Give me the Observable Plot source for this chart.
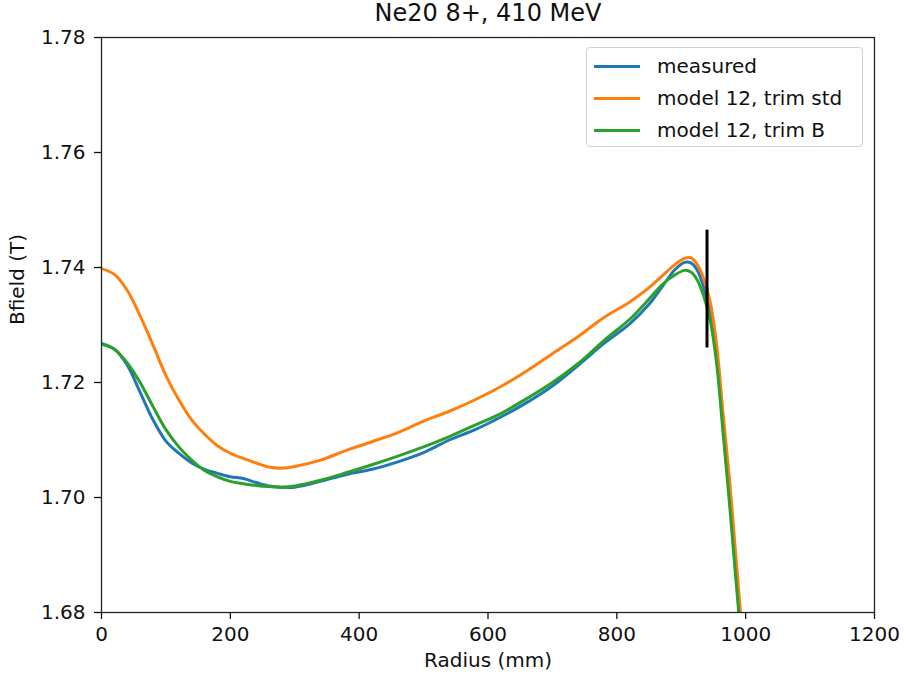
<!DOCTYPE html>
<html>
<head>
<meta charset="utf-8">
<script src="https://cdn.jsdelivr.net/npm/d3@7"></script>
<script src="https://cdn.jsdelivr.net/npm/@observablehq/plot@0.6"></script>
<style>
  html, body { margin: 0; padding: 0; background: white; }
  #wrap { position: relative; width: 907px; height: 677px; font-family: "DejaVu Sans", sans-serif; }
  #legend { position: absolute; left: 586px; top: 47px; width: 277px; height: 100px;
            border: 1px solid #d0d0d0; border-radius: 4px; background: rgba(255,255,255,0.8); box-sizing: border-box; }
  .item { position: absolute; left: 0; height: 30px; width: 100%; }
  .swatch { position: absolute; left: 7px; width: 46px; height: 3px; top: 13.5px; }
  .lab { position: absolute; left: 70px; top: 0; line-height: 30px; font-size: 20px; color: #111; white-space: nowrap; }
</style>
</head>
<body>
<div id="wrap"><div id="legend"></div></div>
<script>
const title = "Ne20 8+, 410 MeV";
const xLabel = "Radius (mm)";
const yLabel = "Bfield (T)";
const seriesNames = ["measured", "model 12, trim std", "model 12, trim B"];
const seriesColors = ["#1f77b4", "#ff7f0e", "#2ca02c"];
const xTicks = [0, 200, 400, 600, 800, 1000, 1200];
const yTicks = [1.68, 1.70, 1.72, 1.74, 1.76, 1.78];

const radius = [0,20,40,60,80,100,120,140,160,180,200,220,240,260,280,300,
  340,380,420,460,500,540,580,620,660,700,740,780,820,
  850,870,890,905,915,925,935,945,955,965,975,985,992];

const measured = [1.7268,1.7258,1.7230,1.7183,1.7135,1.7098,1.7077,1.7060,1.7049,1.7042,1.7036,1.7033,1.7026,1.7020,1.7018,1.7018,
  1.7028,1.7040,1.7049,1.7062,1.7078,1.7100,1.7118,1.7140,1.7165,1.7194,1.7230,1.7268,1.7302,
  1.7336,1.7366,1.7396,1.7409,1.7408,1.7395,1.7365,1.7320,1.7245,1.7125,1.7000,1.6870,1.6770];

const trimStd = [1.7398,1.7388,1.7360,1.7316,1.7265,1.7212,1.7170,1.7135,1.7110,1.7090,1.7077,1.7068,1.7060,1.7053,1.7051,1.7054,
  1.7065,1.7082,1.7097,1.7113,1.7133,1.7150,1.7170,1.7193,1.7220,1.7250,1.7280,1.7313,1.7340,
  1.7365,1.7385,1.7405,1.7416,1.7417,1.7405,1.7380,1.7340,1.7265,1.7145,1.7030,1.6895,1.6800];

const trimB = [1.7267,1.7258,1.7234,1.7200,1.7158,1.7118,1.7088,1.7065,1.7047,1.7036,1.7028,1.7024,1.7021,1.7019,1.7018,1.7020,
  1.7030,1.7043,1.7057,1.7072,1.7088,1.7106,1.7126,1.7146,1.7172,1.7200,1.7233,1.7273,1.7310,
  1.7345,1.7370,1.7387,1.7395,1.7392,1.7378,1.7350,1.7308,1.7232,1.7112,1.6988,1.6855,1.6765];

const markerR = [940];
const markerLow = [1.7260];
const markerHigh = [1.7465];

const allSeries = [measured, trimStd, trimB];
const series = allSeries.map((vals, i) => radius.map((r, j) => ({r, b: vals[j], name: seriesNames[i]})));
const marker = markerR.map((r, i) => ({r, lo: markerLow[i], hi: markerHigh[i]}));

const chart = Plot.plot({
  width: 907,
  height: 677,
  marginLeft: 101,
  marginRight: 33,
  marginTop: 37,
  marginBottom: 65,
  x: {domain: [0, 1200]},
  y: {domain: [1.68, 1.78]},
  style: {fontFamily: "DejaVu Sans, sans-serif", fontSize: "20px", color: "#111", background: "white", overflow: "visible"},
  marks: [
    ...series.map((d, i) => Plot.line(d, {x: "r", y: "b", stroke: seriesColors[i], strokeWidth: 3, curve: "catmull-rom", clip: true})),
    Plot.ruleX(marker, {x: "r", y1: "lo", y2: "hi", stroke: "black", strokeWidth: 3}),
    Plot.frame({stroke: "#222", strokeWidth: 1.3}),
    Plot.axisX({ticks: xTicks, tickFormat: d3.format("d"), tickSize: 7, tickPadding: 7, strokeWidth: 1.3, label: null}),
    Plot.axisY({ticks: yTicks, tickFormat: d3.format(".2f"), tickSize: 7, tickPadding: 9, strokeWidth: 1.3, label: null}),
    Plot.text([title], {frameAnchor: "top", dy: -24, text: d => d, fontSize: 24, lineAnchor: "middle"}),
    Plot.text([xLabel], {frameAnchor: "bottom", dy: 48, text: d => d, fontSize: 20, lineAnchor: "middle"}),
    Plot.text([yLabel], {frameAnchor: "left", dx: -84, text: d => d, fontSize: 20, rotate: -90, lineAnchor: "middle"})
  ]
});
document.getElementById("wrap").prepend(chart);

const legend = document.getElementById("legend");
seriesNames.forEach((name, i) => {
  const item = document.createElement("div");
  item.className = "item";
  item.style.top = (3 + i * 32) + "px";
  const sw = document.createElement("div");
  sw.className = "swatch";
  sw.style.background = seriesColors[i];
  const lab = document.createElement("div");
  lab.className = "lab";
  lab.textContent = name;
  item.appendChild(sw);
  item.appendChild(lab);
  legend.appendChild(item);
});
</script>
</body>
</html>
